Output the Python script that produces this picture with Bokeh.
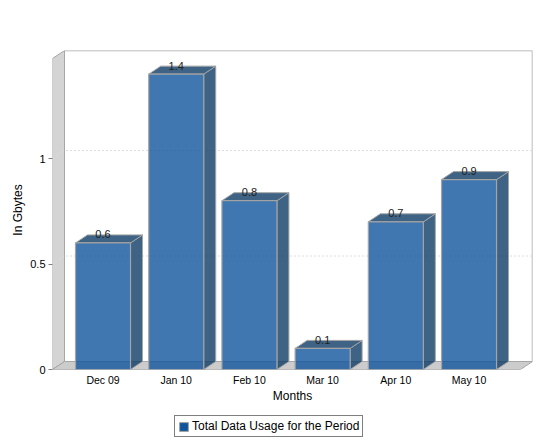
from bokeh.plotting import figure
from bokeh.layouts import column
from bokeh.models import Range1d, FixedTicker, Legend, LegendItem, ColumnDataSource
from bokeh.core.properties import value
from bokeh.embed import file_html
from bokeh.resources import INLINE

months = ["Dec 09", "Jan 10", "Feb 10", "Mar 10", "Apr 10", "May 10"]
usage = [0.6, 1.4, 0.8, 0.1, 0.7, 0.9]
y_ticks = [0, 0.5, 1]
y_labels = {0: "0", 0.5: "0.5", 1: "1"}
series_name = "Total Data Usage for the Period"

FONT = "Liberation Sans"
X0, X1 = -0.69, 5.867
Y0, Y1 = 0.0, 1.512
DX, DY = 0.164, 0.0379
HW = 0.3757
X_FRONT = X1 - DX
BAR = "#10559c"
SIDE = "#0e3c66"
EDGE = "#a4a4a4"

p = figure(width=540, height=412, output_backend="svg", toolbar_location=None,
           x_range=Range1d(X0, X1), y_range=Range1d(Y0, Y1),
           min_border_left=52, min_border_right=8, min_border_top=50, min_border_bottom=43)
p.background_fill_color = "white"
p.border_fill_color = "white"
p.outline_line_color = None
p.grid.visible = False

# walls and floor
WALL = "#d4d4d4"
WALL_EDGE = "#a6a6a6"
p.patch([X0, X0 + DX, X0 + DX, X0], [Y0, Y0 + DY, Y1, Y1 - DY],
        fill_color=WALL, line_color=WALL_EDGE, line_width=1)
p.patch([X0, X0 + DX, X1, X_FRONT], [Y0, Y0 + DY, Y0 + DY, Y0],
        fill_color="#cccccc", line_color=WALL_EDGE, line_width=1)
p.line([X0 + DX, X1, X1], [Y1, Y1, Y0 + DY], line_color=WALL_EDGE, line_width=1.5)
p.line([X0, X_FRONT], [Y0, Y0], line_color=WALL_EDGE, line_width=1)

# gridlines on the back wall
for t in y_ticks[1:]:
    p.line([X0, X0 + DX, X1], [t, t + DY, t + DY], line_color="#dcdcdc", line_width=1, line_dash="2 2")

# bars
idx = list(range(len(months)))
sides_x = [[i + HW, i + HW + DX, i + HW + DX, i + HW] for i in idx]
sides_y = [[0, DY, v + DY, v] for v in usage]
tops_x = [[i - HW, i - HW + DX, i + HW + DX, i + HW] for i in idx]
tops_y = [[v, v + DY, v + DY, v] for v in usage]
p.patches(sides_x, sides_y, fill_color=SIDE, fill_alpha=0.8, line_color=EDGE, line_width=1)
p.patches(tops_x, tops_y, fill_color=SIDE, fill_alpha=0.8, line_color=EDGE, line_width=1)
src = ColumnDataSource(dict(x=idx, top=usage, bottom=[0] * len(idx), txt=[str(v) for v in usage]))
p.vbar(x="x", top="top", bottom="bottom", width=2 * HW, source=src,
       fill_color=BAR, fill_alpha=0.8, line_color=EDGE, line_width=1.2)

# value labels
p.text(x="x", y="top", text="txt", source=src, text_font=value(FONT), text_font_size="11px",
       text_align="center", text_baseline="bottom", text_color="#222222", x_offset=0, y_offset=-4.5)

# axes
xa = p.xaxis[0]
xa.ticker = FixedTicker(ticks=idx)
xa.major_label_overrides = dict(zip(idx, months))
xa.major_tick_line_color = None
xa.major_tick_out = 0
xa.major_tick_in = 0
xa.minor_tick_line_color = None
xa.axis_line_color = None
xa.major_label_text_font = FONT
xa.major_label_text_font_size = "10.5px"
xa.major_label_text_color = "black"
xa.major_label_standoff = 4
xa.axis_label = "Months"
xa.axis_label_text_font = FONT
xa.axis_label_text_font_size = "12px"
xa.axis_label_text_font_style = "normal"
xa.axis_label_text_color = "black"
xa.axis_label_standoff = 0

ya = p.yaxis[0]
ya.ticker = FixedTicker(ticks=y_ticks)
ya.major_label_overrides = y_labels
ya.minor_tick_line_color = None
ya.axis_line_color = None
ya.major_tick_line_color = "#808080"
ya.major_tick_out = 4
ya.major_tick_in = 0
ya.major_label_text_font = FONT
ya.major_label_text_font_size = "11px"
ya.major_label_text_color = "black"
ya.major_label_standoff = 3
ya.major_label_orientation = "horizontal"
ya.axis_label = "In Gbytes"
ya.axis_label_text_font = FONT
ya.axis_label_text_font_size = "12px"
ya.axis_label_text_font_style = "normal"
ya.axis_label_text_color = "black"
ya.axis_label_standoff = 2

# legend, in a strip of its own under the chart; the swatch's renderer lies off its range
q = figure(width=540, height=28, output_backend="svg", toolbar_location=None,
           x_range=Range1d(0, 1), y_range=Range1d(0, 1),
           min_border_left=52, min_border_right=8, min_border_top=0, min_border_bottom=0)
q.axis.visible = False
q.grid.visible = False
q.outline_line_color = None
swatch = q.quad(left=[-2], right=[-1], top=[-1], bottom=[-2], fill_color=BAR, line_color="#a0a0a0")
legend = Legend(items=[LegendItem(label=series_name, renderers=[swatch])],
                location=(122, 3), orientation="horizontal",
                border_line_color="black", border_line_width=1,
                background_fill_color="white", background_fill_alpha=1,
                label_text_font=FONT, label_text_font_size="12px", label_text_color="black",
                label_standoff=3, glyph_width=11, glyph_height=11,
                padding=3, margin=0, label_height=12)
q.add_layout(legend, "center")

page = column(p, q, spacing=0)
open("out.html", "w").write(file_html(page, INLINE))
